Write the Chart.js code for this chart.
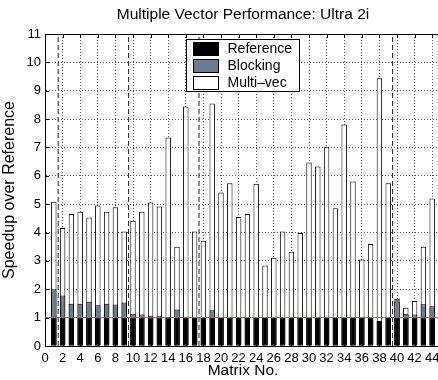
<!DOCTYPE html>
<html>
<head>
<meta charset="utf-8">
<script src="https://cdn.jsdelivr.net/npm/chart.js@4.4.1/dist/chart.umd.min.js"></script>
<style>
  html, body { margin: 0; padding: 0; overflow: hidden; background: #fff; }
</style>
</head>
<body>
<canvas id="chart" width="452" height="380"></canvas>
<script>
// matrix numbers 1..44
const matrixNo = [1, 2, 3, 4, 5, 6, 7, 8, 9, 10, 11, 12, 13, 14, 15, 16, 17, 18, 19, 20, 21, 22,
  23, 24, 25, 26, 27, 28, 29, 30, 31, 32, 33, 34, 35, 36, 37, 38, 39, 40, 41, 42, 43, 44];

const reference = [1, 1, 1, 1, 1, 1, 1, 1, 1, 1, 1, 1, 1, 1, 1, 1, 1, 1, 1, 1, 1, 1,
  1, 1, 1, 1, 1, 1, 1, 1, 1, 1, 1, 1, 1, 1, 1, 0.88, 1, 1, 1, 1, 1, 1];

const blocking = [2.0, 1.78, 1.49, 1.49, 1.56, 1.44, 1.49, 1.46, 1.53, 1.14, 1.11, 1.07, 1.05, 1.02,
  1.29, 1.0, 1.0, 1.0, 1.26, 1.0, 1.0, 1.0, 1.0, 1.0, 1.0, 1.0, 1.0, 1.0, 1.0, 1.0, 1.0, 1.03,
  1.0, 1.0, 1.0, 1.0, 1.0, 0.85, 1.0, 1.67, 1.14, 1.11, 1.47, 1.40];

const multiVec = [5.09, 4.16, 4.65, 4.73, 4.53, 4.95, 4.73, 4.89, 4.04, 4.42, 4.73, 5.06, 4.92, 7.35,
  3.5, 8.44, 4.04, 3.71, 8.55, 5.41, 5.74, 4.55, 4.65, 5.72, 2.84, 3.11, 4.04, 3.32, 3.98, 6.47,
  6.33, 7.01, 4.86, 7.81, 5.8, 3.05, 3.6, 9.44, 5.74, 1.55, 1.35, 1.59, 3.5, 5.2];

// dashed separators between matrix groups
const sectionBreaks = [1.5, 9.5, 17.5, 39.5];
const baseline = 1;

const xMin = 0, xMax = 45, xStep = 2;
const yMin = 0, yMax = 11, yStep = 1;

const FONT = "'Liberation Sans', Arial, Helvetica, sans-serif";
const GRAY = "#6d7a90";

const toPoints = (vals) => vals.map((v, i) => ({ x: matrixNo[i], y: v }));

const barStyle = {
  type: "bar",
  grouped: false,
  barPercentage: 0.62,
  categoryPercentage: 1,
  borderColor: "#000",
  borderWidth: 1,
  borderSkipped: false,
};

const datasets = [
  { ...barStyle, label: "Reference", data: toPoints(reference), backgroundColor: "#000", order: 1 },
  { ...barStyle, label: "Blocking", data: toPoints(blocking), backgroundColor: GRAY, order: 2 },
  { ...barStyle, label: "Multi\u2013vec", data: toPoints(multiVec), backgroundColor: "#fff", order: 3 },
  {
    type: "line", label: "baseline",
    data: [{ x: xMin, y: baseline }, { x: xMax, y: baseline }],
    borderColor: "rgb(235,70,70)", borderWidth: 1, pointRadius: 0, order: 0,
  },
];
sectionBreaks.forEach((b) => {
  datasets.push({
    type: "line", label: "break",
    data: [{ x: b, y: yMin }, { x: b, y: yMax }],
    borderColor: "#222", borderWidth: 1, borderDash: [5, 3], pointRadius: 0, order: 0,
  });
});

// frame, inward ticks, title and boxed legend
const decor = {
  id: "decor",
  afterDraw(chart) {
    const { ctx, chartArea: a, scales } = chart;
    ctx.save();
    ctx.strokeStyle = "#000";
    ctx.lineWidth = 1;
    ctx.beginPath();
    ctx.moveTo(a.left, a.top + 0.5);
    ctx.lineTo(a.right, a.top + 0.5);
    ctx.moveTo(a.right - 0.5, a.top);
    ctx.lineTo(a.right - 0.5, a.bottom);
    scales.y.ticks.forEach((t) => {
      const y = Math.round(scales.y.getPixelForValue(t.value)) + 0.5;
      ctx.moveTo(a.left, y); ctx.lineTo(a.left + 4, y);
    });
    scales.x.ticks.forEach((t) => {
      const x = Math.round(scales.x.getPixelForValue(t.value)) + 0.5;
      ctx.moveTo(x, a.bottom); ctx.lineTo(x, a.bottom - 4);
      ctx.moveTo(x, a.top); ctx.lineTo(x, a.top + 4);
    });
    ctx.stroke();

    // title
    ctx.fillStyle = "#000";
    ctx.font = "15.5px " + FONT;
    ctx.textAlign = "center";
    ctx.textBaseline = "middle";
    ctx.fillText("Multiple Vector Performance: Ultra 2i", (a.left + a.right) / 2, 15);

    // legend
    const lx = 186.5, ly = 39.5, lw = 113, lh = 52;
    ctx.font = "14px " + FONT;
    ctx.fillStyle = "#fff";
    ctx.fillRect(lx, ly, lw, lh);
    ctx.strokeRect(lx, ly, lw, lh);
    const items = chart.data.datasets.filter((d) => d.type === "bar");
    items.forEach((d, i) => {
      const sy = ly + 3 + i * 17;
      ctx.fillStyle = d.backgroundColor;
      ctx.fillRect(lx + 7, sy, 25, 13);
      ctx.strokeRect(lx + 7, sy, 25, 13);
      ctx.fillStyle = "#000";
      ctx.textAlign = "left";
      ctx.fillText(d.label, lx + 41, sy + 7);
    });
    ctx.restore();
  },
};

new Chart(document.getElementById("chart"), {
  data: { datasets },
  options: {
    responsive: false,
    animation: false,
    layout: { padding: { top: 34, right: 11, left: 0, bottom: 0 } },
    plugins: { legend: { display: false }, tooltip: { enabled: false } },
    scales: {
      x: {
        type: "linear",
        min: xMin, max: xMax,
        offset: false,
        grid: { offset: false, color: "#555", drawTicks: false },
        border: { color: "#000", dash: [1, 2] },
        ticks: {
          stepSize: xStep, includeBounds: false, autoSkip: false, maxRotation: 0,
          padding: 5, color: "#000", font: { family: FONT, size: 13 },
        },
        title: {
          display: true, text: "Matrix No.", color: "#000",
          font: { family: FONT, size: 15.5 }, padding: { top: 0, bottom: 0 },
        },
        afterFit(s) { s.height = 34; },
      },
      y: {
        min: yMin, max: yMax,
        grid: { color: "#555", drawTicks: false },
        border: { color: "#000", dash: [1, 2] },
        ticks: { stepSize: yStep, padding: 4, color: "#000", font: { family: FONT, size: 13 } },
        title: {
          display: true, text: "Speedup over Reference", color: "#000",
          font: { family: FONT, size: 16 }, padding: { top: 0, bottom: 3 },
        },
        afterFit(s) { s.width = 45; },
      },
    },
  },
  plugins: [decor],
});
</script>
</body>
</html>
